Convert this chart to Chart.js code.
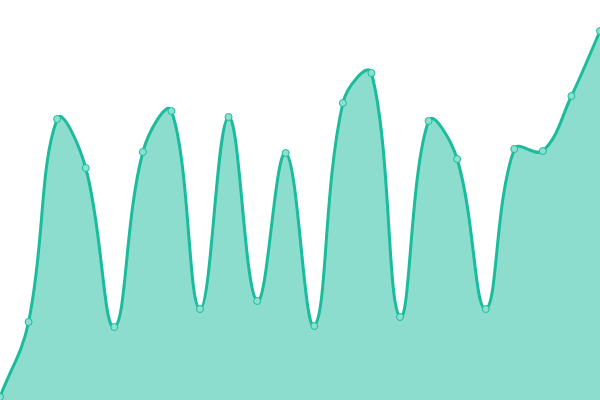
<!DOCTYPE html>
<html>
<head>
<meta charset="utf-8">
<script src="https://cdn.jsdelivr.net/npm/chart.js@4"></script>
<style>
  html, body { margin: 0; padding: 0; background: #fff; }
  #wrap { width: 600px; height: 400px; }
</style>
</head>
<body>
<div id="wrap"><canvas id="myChart"></canvas></div>
<script>
labels = ["1","2","3","4","5","6","7","8","9","10","11","12","13","14","15","16","17","18","19","20","21","22"]
values = [3, 78, 281, 232, 73, 248, 289, 91, 283, 99, 247, 74, 297, 327, 83, 279, 241, 91, 251, 249, 304, 369]

let ctx = document.getElementById('myChart');
new Chart(ctx, {
  type: 'line',
  data: {
    labels: labels,
    datasets: [{
      data: values,
      fill: true,
      tension: 0.4,
      borderColor: '#1abc9c',
      backgroundColor: 'rgba(26,188,156,0.5)',
      borderWidth: 3,
      pointRadius: 3.5,
      pointBorderWidth: 1,
      pointBackgroundColor: 'rgba(140,224,207,1)',
      pointBorderColor: '#1abc9c'
    }]
  },
  options: {
    responsive: true,
    maintainAspectRatio: false,
    animation: false,
    layout: { padding: 0, autoPadding: false },
    plugins: { legend: { display: false }, tooltip: { enabled: false } },
    scales: {
      x: { display: false },
      y: { display: false, min: 0, max: 400 }
    }
  }
});
</script>
</body>
</html>
